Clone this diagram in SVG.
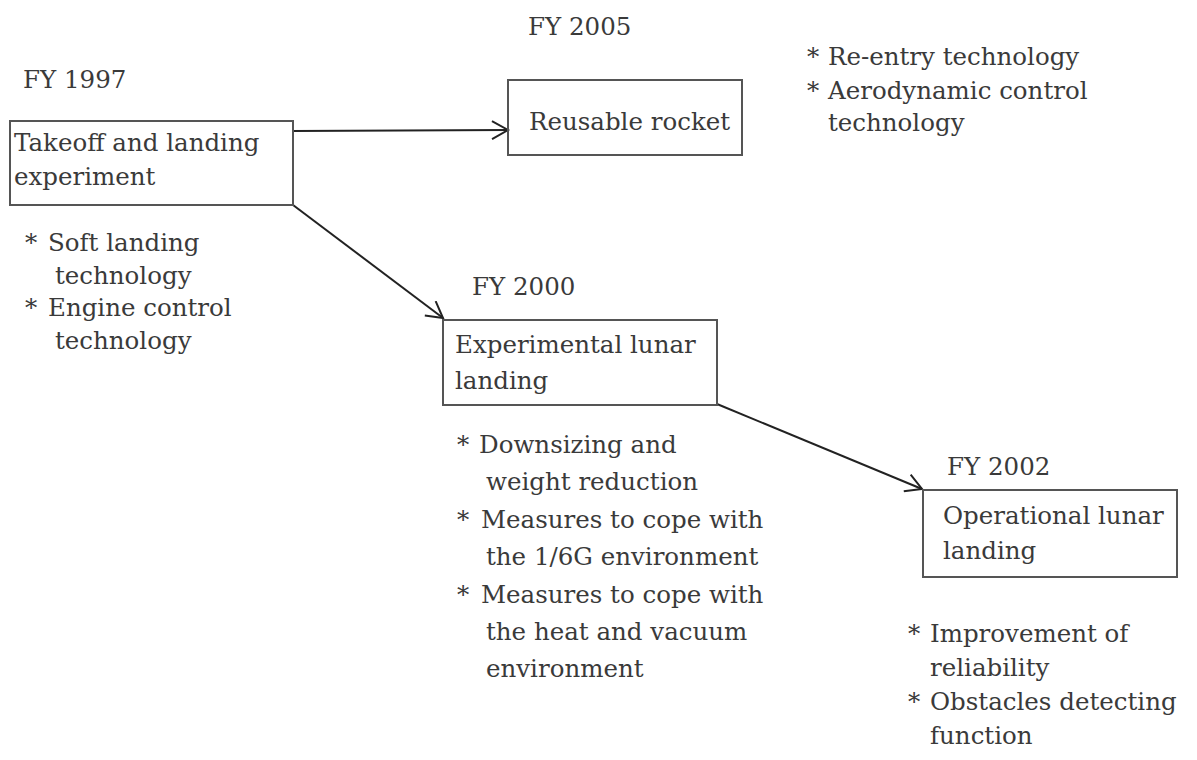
<svg xmlns="http://www.w3.org/2000/svg" width="1197" height="760" viewBox="0 0 1197 760">
<defs>
<style>
.t text{font-size:24.5px;fill:#3a3a3a}
.box{fill:none;stroke:#555;stroke-width:2}
.conn{fill:none;stroke:#222;stroke-width:2}
</style>
<marker id="arr" viewBox="-18 -10 20 20" refX="0" refY="0" markerWidth="20" markerHeight="20" markerUnits="userSpaceOnUse" orient="auto">
<path d="M-16,-9 L0,0 L-16,9" fill="none" stroke="#222" stroke-width="2"/>
</marker>
</defs>
<rect width="1197" height="760" fill="#fff"/>
<g id="connectors">
<line class="conn" x1="293" y1="131" x2="508" y2="130" marker-end="url(#arr)"/>
<line class="conn" x1="293" y1="205" x2="443" y2="318" marker-end="url(#arr)"/>
<line class="conn" x1="717" y1="404" x2="922" y2="489" marker-end="url(#arr)"/>
</g>
<g class="t" font-family="DejaVu Serif, serif">
<g id="node-1997">
<text x="23" y="88">FY 1997</text>
<rect class="box" x="10" y="121" width="283" height="84"/>
<text x="14" y="151">Takeoff and landing</text>
<text x="14" y="185">experiment</text>
<text x="25" y="251">*</text><text x="48" y="251">Soft landing</text>
<text x="55" y="284">technology</text>
<text x="25" y="316">*</text><text x="48" y="316">Engine control</text>
<text x="55" y="349">technology</text>
</g>
<g id="node-2005">
<text x="528" y="35">FY 2005</text>
<rect class="box" x="508" y="80" width="234" height="75"/>
<text x="529" y="130">Reusable rocket</text>
<text x="807" y="65">*</text><text x="828" y="65">Re-entry technology</text>
<text x="807" y="99">*</text><text x="828" y="99">Aerodynamic control</text>
<text x="828" y="131">technology</text>
</g>
<g id="node-2000">
<text x="472" y="295">FY 2000</text>
<rect class="box" x="443" y="320" width="274" height="85"/>
<text x="455" y="353">Experimental lunar</text>
<text x="455" y="389">landing</text>
<text x="457" y="453">*</text><text x="479" y="453">Downsizing and</text>
<text x="486" y="490">weight reduction</text>
<text x="457" y="528">*</text><text x="481" y="528">Measures to cope with</text>
<text x="486" y="565">the 1/6G environment</text>
<text x="457" y="603">*</text><text x="481" y="603">Measures to cope with</text>
<text x="486" y="640">the heat and vacuum</text>
<text x="486" y="677">environment</text>
</g>
<g id="node-2002">
<text x="947" y="475">FY 2002</text>
<rect class="box" x="923" y="490" width="254" height="87"/>
<text x="943" y="524">Operational lunar</text>
<text x="943" y="559">landing</text>
<text x="908" y="642">*</text><text x="930" y="642">Improvement of</text>
<text x="930" y="676">reliability</text>
<text x="908" y="710">*</text><text x="930" y="710">Obstacles detecting</text>
<text x="930" y="744">function</text>
</g>
</g>
</svg>
